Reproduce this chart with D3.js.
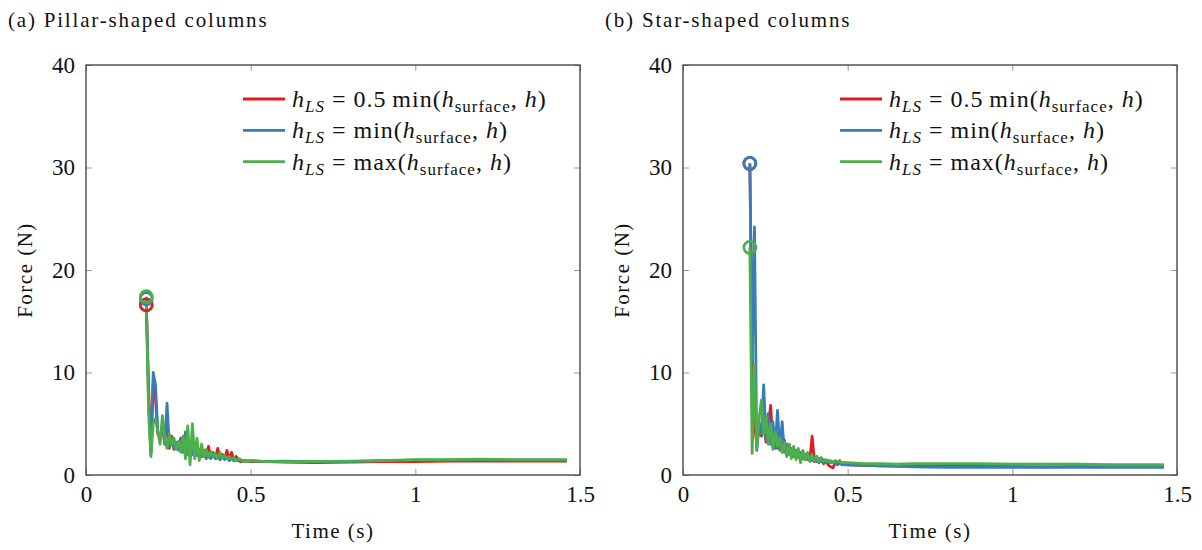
<!DOCTYPE html>
<html>
<head>
<meta charset="utf-8">
<script src="https://cdn.jsdelivr.net/npm/d3@7"></script>
<style>
  body { margin: 0; background: #fff; }
  svg text { font-family: "Liberation Serif", "Times New Roman", Times, Tinos, "DejaVu Serif", "Noto Serif", serif; fill: #111; }
</style>
</head>
<body>
<svg id="chart" width="1202" height="550"></svg>
<script>
// panel (a) pillar-shaped columns
const pillarTime = [0.183, 0.19, 0.197, 0.204, 0.211, 0.218, 0.225, 0.232, 0.239, 0.246, 0.253, 0.26, 0.267, 0.274, 0.281, 0.288, 0.295, 0.302, 0.309, 0.316, 0.323, 0.33, 0.337, 0.344, 0.351, 0.358, 0.365, 0.372, 0.379, 0.386, 0.393, 0.4, 0.407, 0.414, 0.421, 0.428, 0.435, 0.442, 0.449, 0.456, 0.463, 0.47, 0.48, 0.5, 0.55, 0.6, 0.7, 0.8, 0.9, 1.0, 1.1, 1.2, 1.3, 1.46];
const pillarHalfMin = [16.6, 8.6, 2.2, 9.0, 7.5, 4.0, 3.8, 4.8, 3.2, 5.5, 2.6, 3.8, 2.5, 3.0, 2.8, 3.6, 2.3, 3.2, 2.4, 2.6, 2.2, 2.8, 2.0, 2.5, 1.8, 2.4, 1.6, 2.8, 1.7, 2.2, 1.6, 2.6, 1.5, 2.0, 1.6, 2.4, 1.5, 2.2, 1.4, 1.8, 1.4, 1.3, 1.4, 1.3, 1.3, 1.25, 1.2, 1.25, 1.3, 1.3, 1.35, 1.35, 1.35, 1.35];
const pillarMin = [17.2, 7.5, 2.0, 10.0, 8.8, 4.2, 3.5, 5.0, 3.0, 7.0, 2.8, 3.6, 2.6, 3.2, 2.4, 3.4, 2.2, 4.2, 2.0, 2.8, 2.0, 3.0, 1.9, 2.4, 1.8, 2.2, 1.7, 2.1, 1.6, 2.0, 1.6, 1.9, 1.5, 1.8, 1.5, 1.7, 1.4, 1.6, 1.4, 1.5, 1.4, 1.4, 1.35, 1.4, 1.3, 1.35, 1.3, 1.3, 1.4, 1.45, 1.45, 1.5, 1.45, 1.45];
const pillarMax = [17.4, 6.1, 1.8, 5.0, 5.5, 4.2, 3.0, 5.8, 3.5, 2.6, 4.0, 2.9, 3.6, 2.5, 3.3, 2.2, 3.8, 1.6, 4.8, 1.0, 5.0, 1.6, 3.6, 1.4, 3.0, 1.8, 2.5, 1.7, 2.3, 1.8, 2.1, 1.6, 2.2, 1.7, 1.9, 1.6, 1.8, 1.5, 1.7, 1.4, 1.6, 1.5, 1.3, 1.4, 1.3, 1.3, 1.3, 1.35, 1.4, 1.5, 1.5, 1.55, 1.5, 1.5];

// panel (b) star-shaped columns
const starTime = [0.203, 0.21, 0.217, 0.224, 0.231, 0.238, 0.245, 0.252, 0.259, 0.266, 0.273, 0.28, 0.287, 0.294, 0.301, 0.308, 0.315, 0.322, 0.329, 0.336, 0.343, 0.35, 0.357, 0.364, 0.371, 0.378, 0.385, 0.392, 0.399, 0.406, 0.413, 0.42, 0.427, 0.434, 0.441, 0.448, 0.455, 0.462, 0.469, 0.476, 0.483, 0.49, 0.5, 0.55, 0.6, 0.65, 0.7, 0.8, 0.9, 1.0, 1.1, 1.2, 1.3, 1.46];
const starHalfMin = [30.4, 12.0, 5.0, 3.0, 4.5, 3.8, 5.0, 3.2, 4.5, 6.8, 2.8, 4.2, 2.6, 3.8, 2.4, 3.4, 2.2, 3.0, 2.0, 2.6, 1.8, 2.4, 1.6, 2.2, 1.5, 1.9, 1.4, 3.8, 1.3, 1.8, 1.2, 1.6, 1.1, 1.4, 1.0, 0.8, 0.7, 1.2, 1.0, 1.4, 1.0, 1.2, 1.0, 0.95, 0.9, 0.9, 0.85, 0.85, 0.85, 0.85, 0.8, 0.85, 0.85, 0.85];
const starMin = [30.4, 11.0, 24.2, 2.4, 5.0, 4.0, 8.8, 3.4, 6.0, 3.0, 5.2, 2.6, 6.3, 2.4, 5.2, 2.2, 3.0, 2.0, 2.6, 1.8, 2.4, 1.7, 2.2, 1.6, 2.0, 1.5, 1.8, 1.4, 1.7, 1.3, 1.6, 1.3, 1.5, 1.2, 1.4, 1.2, 1.3, 1.1, 1.2, 1.1, 1.1, 1.0, 1.0, 0.95, 0.9, 0.85, 0.8, 0.75, 0.75, 0.75, 0.75, 0.75, 0.75, 0.75];
const starMax = [22.2, 2.1, 10.7, 2.6, 5.5, 7.3, 4.0, 5.8, 3.0, 5.0, 2.5, 4.2, 2.8, 3.6, 2.2, 3.2, 1.8, 3.0, 1.6, 2.8, 1.5, 2.6, 1.2, 2.4, 1.5, 2.2, 1.3, 2.0, 1.4, 1.8, 1.3, 1.7, 1.3, 1.5, 1.3, 1.4, 1.2, 1.4, 1.3, 1.3, 1.2, 1.2, 1.2, 1.1, 1.1, 1.05, 1.1, 1.1, 1.1, 1.05, 1.05, 1.05, 1.0, 1.0];

const seriesNames = ['halfMin', 'min', 'max'];
const seriesColors = ['#e41a1c', '#377eb8', '#4daf4a'];
const legendMid = ['0.5\u2009min(', 'min(', 'max('];

const xTicks = [0, 0.5, 1, 1.5];
const yTicks = [0, 10, 20, 30, 40];

const panels = [
	{ title: '(a) Pillar-shaped columns', left: 86, time: pillarTime, values: [pillarHalfMin, pillarMin, pillarMax] },
	{ title: '(b) Star-shaped columns', left: 683, time: starTime, values: [starHalfMin, starMin, starMax] },
];

const serif = '"Liberation Serif", "Times New Roman", Times, Tinos, "DejaVu Serif", "Noto Serif", serif';
const svg = d3.select('#chart');
const plotWidth = 494;
const plotTop = 65;
const plotBottom = 475;

panels.forEach((p) => {
	const x = d3.scaleLinear().domain([0, 1.5]).range([p.left, p.left + plotWidth]);
	const y = d3.scaleLinear().domain([0, 40]).range([plotBottom, plotTop]);
	const g = svg.append('g');

	g.append('text')
		.attr('x', p.left - 78)
		.attr('y', 27)
		.style('font-size', '21px')
		.style('letter-spacing', '1.8px')
		.text(p.title);

	// inside ticks on all four sides
	const fmt = d3.format('~g');
	const bottom = g.append('g')
		.attr('transform', `translate(0,${plotBottom})`)
		.call(d3.axisBottom(x).tickValues(xTicks).tickSize(-6).tickPadding(11).tickFormat(fmt));
	const top = g.append('g')
		.attr('transform', `translate(0,${plotTop})`)
		.call(d3.axisTop(x).tickValues(xTicks).tickSize(-6).tickFormat(''));
	const leftAx = g.append('g')
		.attr('transform', `translate(${p.left},0)`)
		.call(d3.axisLeft(y).tickValues(yTicks).tickSize(-6).tickPadding(11).tickFormat(fmt));
	const rightAx = g.append('g')
		.attr('transform', `translate(${p.left + plotWidth},0)`)
		.call(d3.axisRight(y).tickValues(yTicks).tickSize(-6).tickFormat(''));

	[bottom, top, leftAx, rightAx].forEach((a) => {
		a.attr('font-family', null);
		a.select('.domain').remove();
		a.selectAll('line').attr('stroke', '#9a9a9a').attr('stroke-width', 1);
		a.selectAll('text')
			.style('font-size', '23px')
			.style('font-family', serif)
			.attr('fill', '#111');
	});

	g.append('rect')
		.attr('x', p.left)
		.attr('y', plotTop)
		.attr('width', plotWidth)
		.attr('height', plotBottom - plotTop)
		.attr('fill', 'none')
		.attr('stroke', '#3a3a3a')
		.attr('stroke-width', 1.3);

	g.append('text')
		.attr('x', p.left + plotWidth / 2)
		.attr('y', 538)
		.attr('text-anchor', 'middle')
		.style('font-size', '21px')
		.style('letter-spacing', '1.5px')
		.text('Time (s)');

	g.append('text')
		.attr('transform', `translate(${p.left - 54},${(plotTop + plotBottom) / 2}) rotate(-90)`)
		.attr('text-anchor', 'middle')
		.style('font-size', '21px')
		.style('letter-spacing', '1.5px')
		.text('Force (N)');

	const line = d3.line()
		.x((d) => x(d[0]))
		.y((d) => y(d[1]));

	seriesNames.forEach((name, k) => {
		const pts = p.time.map((t, i) => [t, p.values[k][i]]);
		g.append('path')
			.datum(pts)
			.attr('d', line)
			.attr('fill', 'none')
			.attr('stroke', seriesColors[k])
			.attr('stroke-width', 2.8)
			.attr('stroke-linejoin', 'round');
	});

	seriesNames.forEach((name, k) => {
		g.append('circle')
			.attr('cx', x(p.time[0]))
			.attr('cy', y(p.values[k][0]))
			.attr('r', 6)
			.attr('fill', 'none')
			.attr('stroke', seriesColors[k])
			.attr('stroke-width', 2.8);
	});

	// legend
	const lg = g.append('g').attr('transform', `translate(${p.left + 157},99)`);
	seriesNames.forEach((name, k) => {
		const row = lg.append('g').attr('transform', `translate(0,${k * 31.3})`);
		row.append('line')
			.attr('x1', 0).attr('x2', 42)
			.attr('stroke', seriesColors[k])
			.attr('stroke-width', 2.8);
		const t = row.append('text')
			.attr('x', 49)
			.attr('y', 8)
			.style('font-size', '24px')
			.style('letter-spacing', '1px');
		t.append('tspan').style('font-style', 'italic').text('h');
		t.append('tspan').style('font-style', 'italic').style('font-size', '17px').attr('dy', 5).text('LS');
		t.append('tspan').attr('dy', -5).text(' = ' + legendMid[k]);
		t.append('tspan').style('font-style', 'italic').text('h');
		t.append('tspan').style('font-size', '17px').attr('dy', 5).text('surface');
		t.append('tspan').attr('dy', -5).text(', ');
		t.append('tspan').style('font-style', 'italic').text('h');
		t.append('tspan').text(')');
	});
});
</script>
</body>
</html>
